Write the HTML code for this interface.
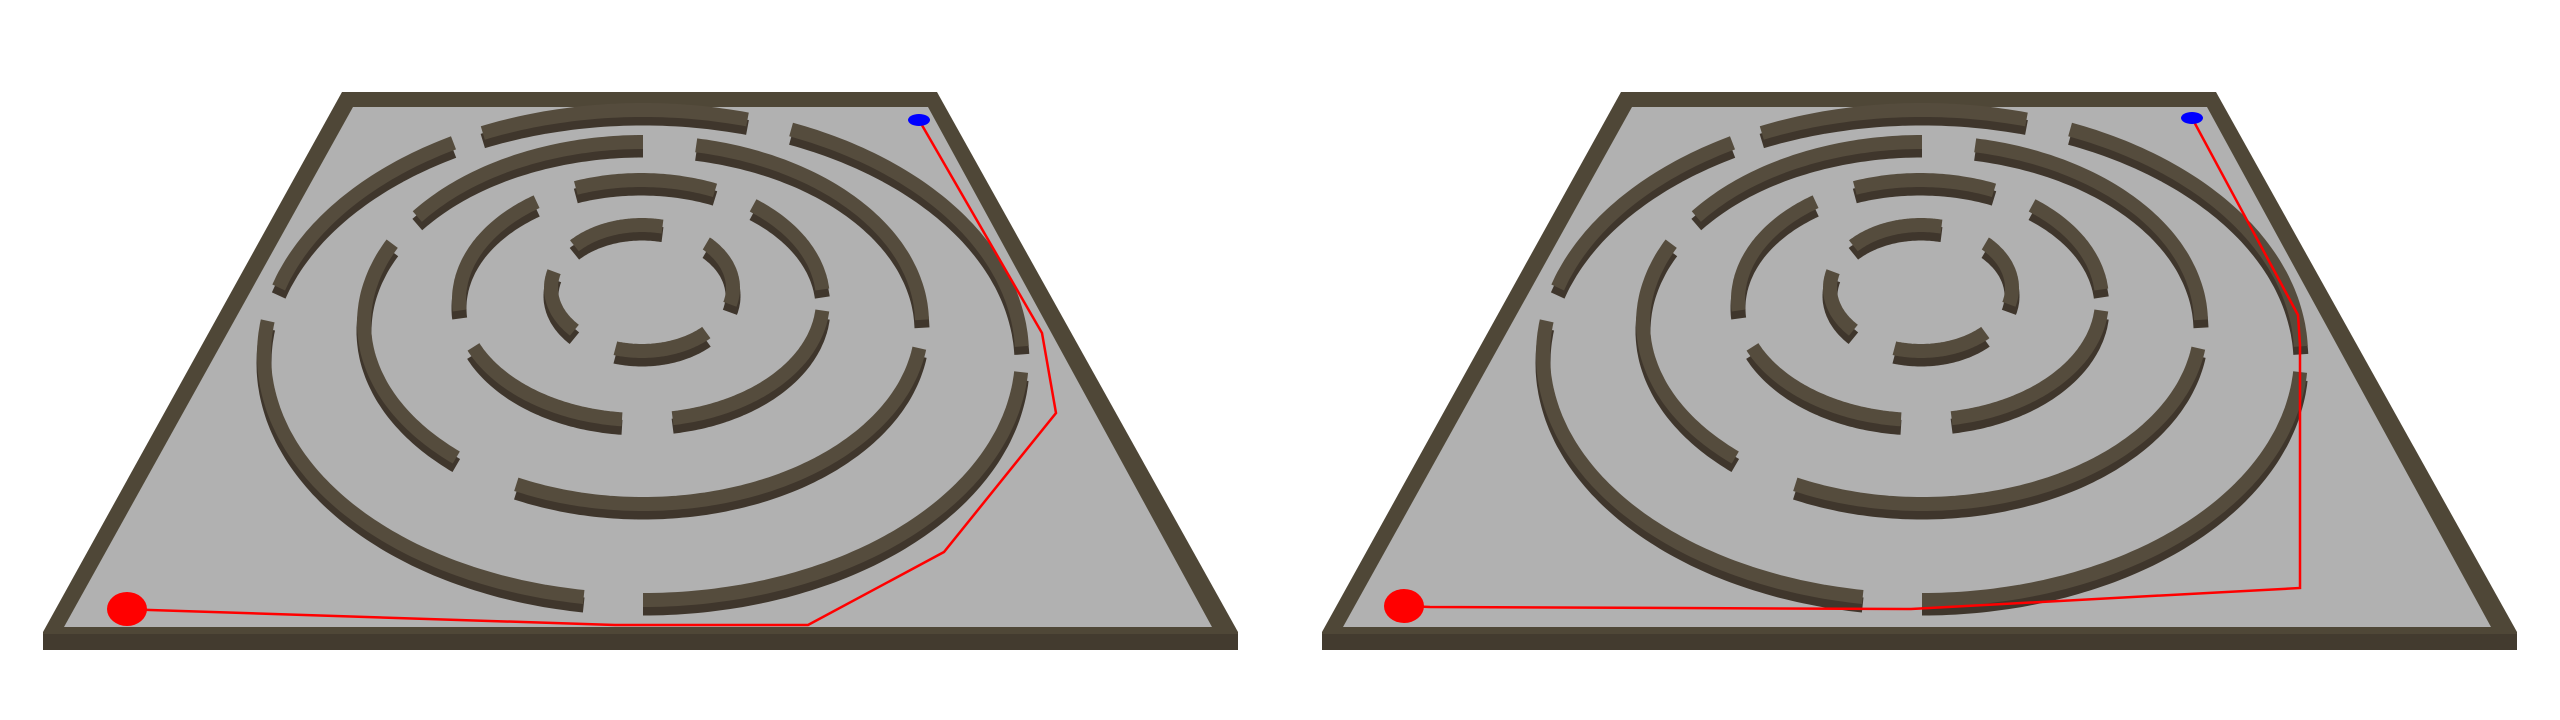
<!DOCTYPE html>
<html><head><meta charset="utf-8"><title>Circular maze paths</title>
<style>html,body{margin:0;padding:0;background:#fff;width:2560px;height:720px;overflow:hidden}</style></head>
<body>
<svg id="scene" width="2560" height="720" viewBox="0 0 2560 720" xmlns="http://www.w3.org/2000/svg">
</svg>
<script>
// Panel offsets (left and right views)
const panelOffsets = [0, 1279];
// Ring ellipses: cx, cy, rx, ry
const ringCx = [643, 643, 641, 642];
const ringCy = [355, 323, 300, 288];
const ringRx = [379, 279, 182, 91];
const ringRy = [245, 181, 120, 63];
// Wall segments per ring: [startAngle, endAngle] (deg, screen coords)
const ringSegments = [
  [[245,286],[293,358],[4,90],[99,188],[196,240]],
  [[216,270],[281,359],[8,117],[132,206]],
  [[249,294],[308,355],[5,80],[96,157],[175,235]],
  [[222,283],[315,375],[45,107],[138,195]]
];
// Solution paths per panel (points)
const pathLeft = [[127,609],[150,610],[615,625],[808,625],[944,552],[1056,413],[1042,333],[919,120]];
const pathRight = [[1404,606],[1430,607],[1911,609],[2300,588],[2300,345],[2298,315],[2192,118]];
const paths = [pathLeft, pathRight];

const NS = 'http://www.w3.org/2000/svg';
const svg = document.getElementById('scene');
function mk(tag, attrs, parent) {
  const e = document.createElementNS(NS, tag);
  for (const k in attrs) e.setAttribute(k, attrs[k]);
  (parent || svg).appendChild(e);
  return e;
}
function arcPath(cx, cy, rx, ry, a0, a1, dy) {
  let d = '';
  for (let a = a0; a <= a1 + 0.001; a += 1) {
    const t = a * Math.PI / 180;
    const x = cx + rx * Math.cos(t), y = cy + ry * Math.sin(t) + dy;
    d += (d ? 'L' : 'M') + x.toFixed(1) + ' ' + y.toFixed(1);
  }
  return d;
}
panelOffsets.forEach((ox, pi) => {
  const g = mk('g', {transform: 'translate(' + ox + ',0)'});
  
  
  const frame = mk('polygon', {points: '342,92 937,92 1238,632 1238,650 43,650 43,632', fill: '#4f4737'}, g);
  
  
  const face = mk('polygon', {points: '43,634 1238,634 1238,650 43,650', fill: '#433b2f'}, g);
  
  
  const floor = mk('polygon', {points: '353,107 928,107 1212,627 64,627', fill: '#b1b1b1'}, g);
  
  
  ringSegments.forEach((segs, ri) => {
    segs.forEach(s => {
      const f = mk('path', {d: arcPath(ringCx[ri], ringCy[ri], ringRx[ri], ringRy[ri], s[0], s[1], 8), fill: 'none', stroke: '#3f362c', 'stroke-width': 15}, g);
      
      
      const t = mk('path', {d: arcPath(ringCx[ri], ringCy[ri], ringRx[ri], ringRy[ri], s[0], s[1], 0), fill: 'none', stroke: '#554c3d', 'stroke-width': 14}, g);
      
      
    });
  });
});
paths.forEach((p, pi) => {
  const line = mk('polyline', {points: p.map(q => q.join(',')).join(' '), fill: 'none', stroke: '#ff0000', 'stroke-width': 2.5});
  
  
  const st = p[0], en = p[p.length - 1];
  const s = mk('ellipse', {cx: st[0], cy: st[1], rx: 20, ry: 17, fill: '#ff0000'});
  
  
  const e = mk('ellipse', {cx: en[0], cy: en[1], rx: 11, ry: 6, fill: '#0000ff'});
  
  
});
</script>
</body></html>
